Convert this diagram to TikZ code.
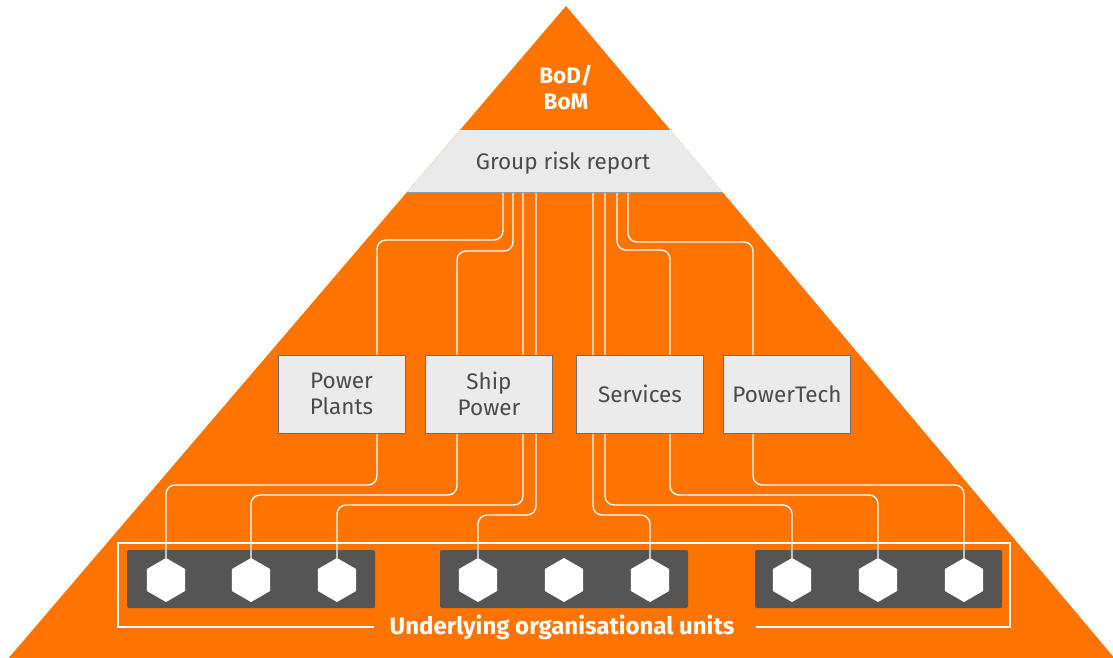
\documentclass[tikz,border=0pt]{standalone}
\usepackage{fontspec}
\setmainfont{Fira Sans}
\usetikzlibrary{shapes.geometric,calc}
\definecolor{org}{RGB}{255,115,0}
\definecolor{bandgray}{RGB}{234,234,234}
\definecolor{boxgray}{RGB}{235,235,235}
\definecolor{boxline}{RGB}{110,110,110}
\definecolor{txtgray}{RGB}{75,75,75}
\definecolor{unitgray}{RGB}{85,85,85}
\tikzset{
  wire/.style={draw=white,line width=1.4pt,rounded corners=9pt},
  divbox/.style={draw=boxline,line width=1pt,fill=boxgray,minimum width=127pt,minimum height=78pt,inner sep=0pt,
     align=center,text=txtgray,font=\fontsize{22.5}{26}\selectfont},
  hexa/.style={regular polygon,regular polygon sides=6,regular polygon rotate=30,fill=white,minimum size=44pt,inner sep=0pt},
  unitbar/.style={fill=unitgray,rounded corners=2pt},
  whitetxt/.style={text=white,font=\bfseries\fontsize{22.5}{26}\selectfont,align=center},
}
\begin{document}
\begin{tikzpicture}[x=1pt,y=-1pt]
\useasboundingbox (0,0) rectangle (1113,657);
% pyramid
\fill[org] (566,6) -- (1116,660) -- (7,660) -- cycle;
% band
\fill[bandgray] (460,130) -- (670.4,130) -- (722.6,192) -- (407,192) -- cycle;
\draw[boxline!70,line width=1pt] (407,192) -- (722.6,192);
\node[whitetxt] (bod) at (566,88) {BoD/\\BoM};
\node[text=txtgray,font=\fontsize{22.5}{26}\selectfont] (grr) at (563,163) {Group risk report};
% start coordinates on band
\foreach \n/\x in {s1/503,s2/513,s3/523,s4/536,s5/593,s6/605,s7/617,s8/628}
  \coordinate (\n) at (\x,193);
% hexagons
\foreach \n/\x in {h1/166,h2/251,h3/337,h4/478,h5/564,h6/650,h7/792,h8/878,h9/964}
  \coordinate (\n c) at (\x,580);
% unit bars
\fill[unitbar] (127,550) rectangle (375,608);
\fill[unitbar] (440,550) rectangle (688,608);
\fill[unitbar] (755,550) rectangle (1002,608);
\foreach \n in {h1,h2,h3,h4,h5,h6,h7,h8,h9}
  \node[hexa] (\n) at (\n c) {};
% wires
\draw[wire] (s1) -- (503,240) -- (377,240) -- (377,485) -- (166,485) -- (h1.north);
\draw[wire] (s2) -- (513,251) -- (457,251) -- (457,495) -- (251,495) -- (h2.north);
\draw[wire] (s3) -- (523,505) -- (337,505) -- (h3.north);
\draw[wire] (s4) -- (536,515) -- (478,515) -- (h4.north);
\draw[wire] (s5) -- (593,515) -- (650,515) -- (h6.north);
\draw[wire] (s6) -- (605,505) -- (792,505) -- (h7.north);
\draw[wire] (s7) -- (617,250) -- (670,250) -- (670,495) -- (878,495) -- (h8.north);
\draw[wire] (s8) -- (628,242) -- (753,242) -- (753,485) -- (964,485) -- (h9.north);
% division boxes
\node[divbox] (pp) at (341.5,394) {Power\\Plants};
\node[divbox] (sp) at (489,394) {Ship\\Power};
\node[divbox] (sv) at (640,394) {Services};
\node[divbox] (pt) at (787,394) {PowerTech};
% frame and label
\node[whitetxt,font=\bfseries\fontsize{24}{26}\selectfont] (ut) at (562,627) {Underlying organisational units};
\draw[white,line width=1.2pt] ($(ut.west)+(-12,0)$) -- (118,627) -- (118,543) -- (1010,543) -- (1010,627) -- ($(ut.east)+(18,0)$);
\end{tikzpicture}
\end{document}
